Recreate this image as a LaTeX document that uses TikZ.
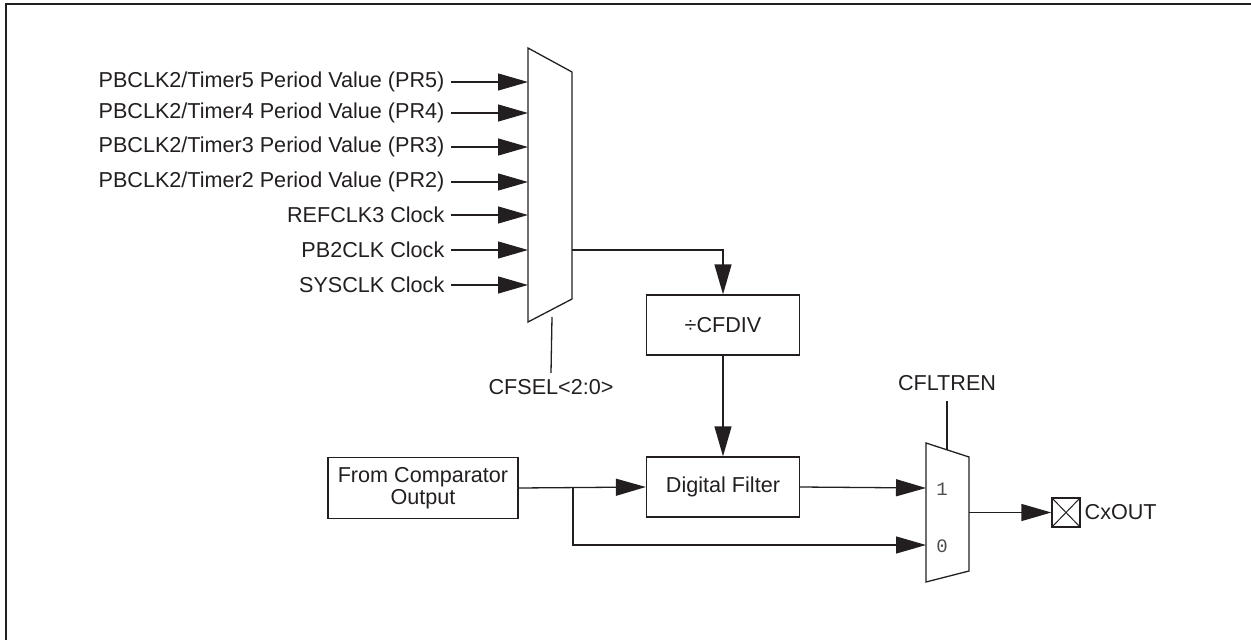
\documentclass[tikz,border=0pt]{standalone}
\usepackage{fontspec}
\setmainfont{Liberation Sans}
\newfontfamily\digitfont{Liberation Mono}
\usetikzlibrary{arrows.meta}
\definecolor{ink}{RGB}{35,31,32}
\begin{document}
\begin{tikzpicture}[x=1pt,y=-1pt,
  line width=1.3pt, draw=ink,
  arr/.style={-{Triangle[length=30pt,width=17pt]}},
  lbl/.style={font=\fontsize{21.6}{25}\selectfont, inner sep=0pt, text=ink},
  blk/.style={draw=ink, line width=1.3pt, font=\fontsize{21.6}{25}\selectfont, text=ink, inner sep=0pt, align=center},
  dig/.style={font=\digitfont\fontsize{19}{22}\selectfont, inner sep=0pt, text=ink!80}]
\useasboundingbox (0,0) rectangle (1251,640);
\draw[line width=2pt] (6,640) -- (6,4) -- (1251,4);

% mux 1
\coordinate (m1tl) at (528,48);
\coordinate (m1tr) at (572,72);
\coordinate (m1br) at (572,299);
\coordinate (m1bl) at (528,322);
\draw (m1tl) -- (m1tr) -- (m1br) -- (m1bl) -- cycle;

\node[lbl, anchor=east] (in5) at (445,82)  {PBCLK2/Timer5 Period Value (PR5)};
\node[lbl, anchor=east] (in4) at (445,113) {PBCLK2/Timer4 Period Value (PR4)};
\node[lbl, anchor=east] (in3) at (445,147) {PBCLK2/Timer3 Period Value (PR3)};
\node[lbl, anchor=east] (in2) at (445,182) {PBCLK2/Timer2 Period Value (PR2)};
\node[lbl, anchor=east] (inr) at (445,215) {REFCLK3 Clock};
\node[lbl, anchor=east] (inp) at (445,250) {PB2CLK Clock};
\node[lbl, anchor=east] (ins) at (445,285) {SYSCLK Clock};
\foreach \n in {in5,in4,in3,in2,inr,inp,ins}
  \draw[arr] ([xshift=6pt]\n.east) -- (\n.east -| m1tl);

% CFSEL
\coordinate (sel1top) at (552,317);
\node[lbl] (cfsel) at (551,387) {CFSEL<2:0>};
\draw (sel1top) -- (cfsel.north |- 0,373);

% divider and filter
\node[blk, minimum width=153pt, minimum height=60pt] (div) at (723,325) {÷CFDIV};
\node[blk, minimum width=153pt, minimum height=60pt] (filt) at (723,487) {Digital Filter};
\coordinate (m1out) at (572,250);
\draw[arr] (m1out) -| (div.north);
\draw[arr] (div.south) -- (filt.north);

% comparator
\node[blk, minimum width=190pt, minimum height=61pt] (comp) at (423,488) {From Comparator\\[-3pt]Output};
\coordinate (br) at (573,488);

% mux 2
\coordinate (m2tl) at (926,443);
\coordinate (m2tr) at (969,457);
\coordinate (m2br) at (969,571);
\coordinate (m2bl) at (926,582);
\draw (m2tl) -- (m2tr) -- (m2br) -- (m2bl) -- cycle;
\node[dig] (one) at (942,489) {1};
\node[dig] (zero) at (942,546) {0};
\coordinate (m2in1) at (926,488);
\coordinate (m2in0) at (926,545);

\draw[arr] (comp.east) -- (filt.west);
\draw[arr] (filt.east) -- (m2in1);
\draw[arr] (br) |- (m2in0);

% CFLTREN
\node[lbl] (cfl) at (947,383) {CFLTREN};
\coordinate (sel2bot) at (947,450);
\draw (cfl.south |- 0,401) -- (sel2bot);

% output
\node[draw=ink, line width=1.3pt, minimum width=28pt, minimum height=29pt, inner sep=0pt] (pin) at (1066,512.5) {};
\draw[line width=1pt] (pin.north west) -- (pin.south east) (pin.north east) -- (pin.south west);
\node[lbl, anchor=west] (cxout) at (1084,512.5) {CxOUT};
\coordinate (m2out) at (969,512.5);
\draw[arr] (m2out) -- (pin.west);
\end{tikzpicture}
\end{document}
